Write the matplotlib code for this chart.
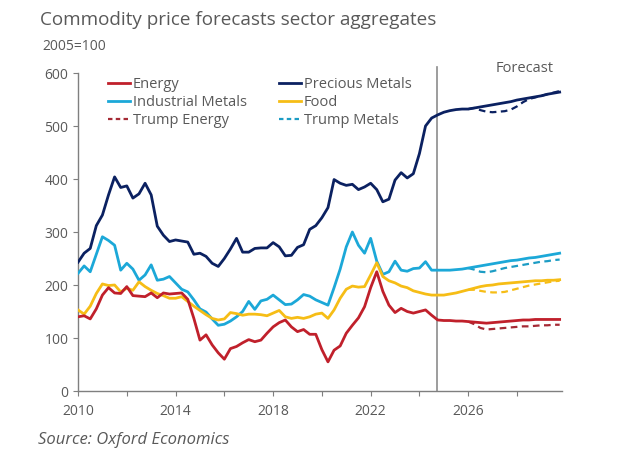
"""Commodity price forecasts, sector aggregates (Oxford Economics style)."""

import matplotlib
matplotlib.use('Agg')
import matplotlib.pyplot as plt
from matplotlib.lines import Line2D
import numpy as np

COLORS = {
    'energy': '#C0202B',
    'precious': '#0B2161',
    'industrial': '#1CA8D8',
    'food': '#F6BD16',
    'trump_energy': '#A52A35',
    'trump_metals': '#1C9CC4',
    'text': '#595959',
    'axis': '#7F7F7F',
}

# quarterly index values, 2010Q1 .. 2029Q4 (2005=100)
START_YEAR = 2010
FORECAST_START = 2024.72

energy = [
    140, 142, 136, 155, 181, 195, 185, 184, 197, 180, 179, 178,
    185, 176, 185, 183, 184, 185, 173, 137, 96, 106, 87, 72,
    60, 80, 84, 91, 97, 93, 96, 109, 121, 129, 134, 121,
    112, 116, 107, 107, 78, 55, 77, 85, 109, 124, 138, 159,
    195, 225, 188, 162, 148, 156, 150, 147, 150, 153, 143, 134,
    133, 133, 132, 132, 131, 130, 129, 128, 129, 130, 131, 132,
    133, 134, 134, 135, 135, 135, 135, 135,
]
precious_metals = [
    243, 260, 269, 312, 332, 370, 404, 384, 387, 364, 372, 392,
    370, 311, 294, 282, 285, 283, 281, 258, 260, 254, 241, 235,
    250, 268, 288, 262, 262, 269, 270, 270, 280, 272, 255, 256,
    271, 276, 305, 312, 327, 346, 399, 392, 388, 390, 380, 385,
    392, 380, 357, 362, 398, 412, 402, 410, 448, 500, 515, 521,
    526, 529, 531, 532, 532, 534, 536, 538, 540, 542, 544, 546,
    549, 551, 553, 555, 557, 560, 562, 564,
]
industrial_metals = [
    222, 236, 225, 258, 291, 284, 275, 228, 241, 230, 209, 219,
    238, 209, 211, 216, 204, 192, 187, 172, 155, 149, 136, 124,
    126, 132, 140, 150, 169, 154, 170, 173, 181, 172, 163, 164,
    172, 182, 179, 172, 167, 162, 195, 230, 272, 300, 275, 260,
    288, 245, 220, 225, 245, 228, 226, 231, 232, 244, 228, 228,
    228, 228, 229, 230, 232, 234, 236, 238, 240, 242, 244, 246,
    247, 249, 251, 252, 254, 256, 258, 260,
]
food = [
    153, 145, 160, 184, 202, 199, 200, 187, 194, 190, 206, 197,
    190, 184, 180, 175, 175, 178, 169, 160, 152, 144, 137, 134,
    136, 148, 146, 143, 145, 145, 144, 142, 147, 152, 140, 137,
    139, 137, 140, 145, 147, 137, 153, 175, 192, 198, 196, 197,
    219, 242, 216, 208, 204, 198, 195, 189, 186, 183, 181, 181,
    181, 183, 185, 188, 191, 194, 197, 199, 200, 202, 203, 204,
    205, 206, 207, 208, 208, 209, 209, 210,
]

# Trump scenario, 2026Q1 .. 2029Q4
TRUMP_START = 2026.0
trump_energy = [131, 126, 119, 116, 117, 118, 119, 120,
                121, 122, 122, 123, 124, 124, 125, 125]
trump_precious = [532, 534, 530, 527, 526, 527, 528, 531,
                  537, 545, 551, 554, 557, 560, 563, 566]
trump_industrial = [232, 229, 225, 224, 226, 229, 232, 234,
                    236, 238, 240, 242, 244, 245, 247, 248]
trump_food = [191, 191, 189, 187, 186, 186, 187, 190,
              193, 196, 199, 201, 203, 205, 207, 208]

x_ticks = list(range(2010, 2030, 2))
x_labels = ['2010', '', '2014', '', '2018', '', '2022', '', '2026', '']
y_ticks = [0, 100, 200, 300, 400, 500, 600]


def setup_style():
    plt.rcParams['font.family'] = ['Open Sans', 'DejaVu Sans']
    plt.rcParams['font.size'] = 10
    plt.rcParams['text.color'] = COLORS['text']
    plt.rcParams['axes.labelcolor'] = COLORS['text']
    plt.rcParams['xtick.color'] = COLORS['axis']
    plt.rcParams['ytick.color'] = COLORS['axis']
    plt.rcParams['xtick.labelcolor'] = COLORS['text']
    plt.rcParams['ytick.labelcolor'] = COLORS['text']
    plt.rcParams['xtick.labelsize'] = 10
    plt.rcParams['ytick.labelsize'] = 10
    plt.rcParams['xtick.direction'] = 'out'
    plt.rcParams['ytick.direction'] = 'out'
    plt.rcParams['xtick.major.size'] = 3.5
    plt.rcParams['ytick.major.size'] = 3.5
    plt.rcParams['axes.spines.top'] = False
    plt.rcParams['axes.spines.right'] = False


setup_style()

quarters = START_YEAR + 0.25 * np.arange(len(energy))
trump_q = TRUMP_START + 0.25 * np.arange(len(trump_energy))

fig = plt.figure(figsize=(6.38, 4.63), dpi=100)
ax = fig.add_axes([0.1223, 0.1555, 0.7587, 0.6868])

lw = 2.0
dash = (0, (3, 2))
ax.plot(trump_q, trump_precious, color=COLORS['precious'], lw=1.6, ls=dash, zorder=2)
ax.plot(trump_q, trump_industrial, color=COLORS['trump_metals'], lw=1.6, ls=dash, zorder=2)
ax.plot(trump_q, trump_food, color=COLORS['food'], lw=1.6, ls=dash, zorder=2)
ax.plot(trump_q, trump_energy, color=COLORS['trump_energy'], lw=1.6, ls=dash, zorder=2)

ax.plot(quarters, precious_metals, color=COLORS['precious'], lw=lw, zorder=3)
ax.plot(quarters, industrial_metals, color=COLORS['industrial'], lw=lw, zorder=3)
ax.plot(quarters, food, color=COLORS['food'], lw=lw, zorder=3)
ax.plot(quarters, energy, color=COLORS['energy'], lw=lw, zorder=3)

ax.plot([FORECAST_START, FORECAST_START], [0, 612], color='#8C8C8C',
        lw=1.2, clip_on=False, zorder=1)
ax.text(2029.5, 609, 'Forecast', ha='right', va='center', fontsize=10.5)

ax.set_xlim(2010, 2029.85)
ax.set_ylim(0, 600)
ax.set_xticks(x_ticks)
ax.set_xticklabels(x_labels)
ax.set_yticks(y_ticks)
for side in ['left', 'bottom']:
    ax.spines[side].set_color(COLORS['axis'])
    ax.spines[side].set_linewidth(1.0)
ax.tick_params(axis='x', pad=6)

handles = [
    Line2D([], [], color=COLORS['energy'], lw=2),
    Line2D([], [], color=COLORS['industrial'], lw=2),
    Line2D([], [], color=COLORS['trump_energy'], lw=1.6, ls=(0, (2, 1.5))),
    Line2D([], [], color=COLORS['precious'], lw=2),
    Line2D([], [], color=COLORS['food'], lw=2),
    Line2D([], [], color=COLORS['trump_metals'], lw=1.6, ls=(0, (2, 1.5))),
]
labels = ['Energy', 'Industrial Metals', 'Trump Energy',
          'Precious Metals', 'Food', 'Trump Metals']
ax.legend(handles, labels, ncol=2, loc='upper left',
          bbox_to_anchor=(0.05, 1.005), frameon=False, fontsize=10.5,
          handlelength=1.5, handletextpad=0.2, columnspacing=2.2,
          labelspacing=0.2, borderaxespad=0.0, labelcolor=COLORS['text'])

fig.text(40 / 638, 1 - 20 / 463, 'Commodity price forecasts sector aggregates',
         fontsize=13.6, va='center', ha='left')
fig.text(42 / 638, 1 - 46 / 463, '2005=100', fontsize=10, va='center', ha='left')
fig.text(38 / 638, 1 - 440 / 463, 'Source: Oxford Economics', fontsize=12,
         style='italic', va='center', ha='left')

fig.savefig('out.png', dpi=100, facecolor='white')
